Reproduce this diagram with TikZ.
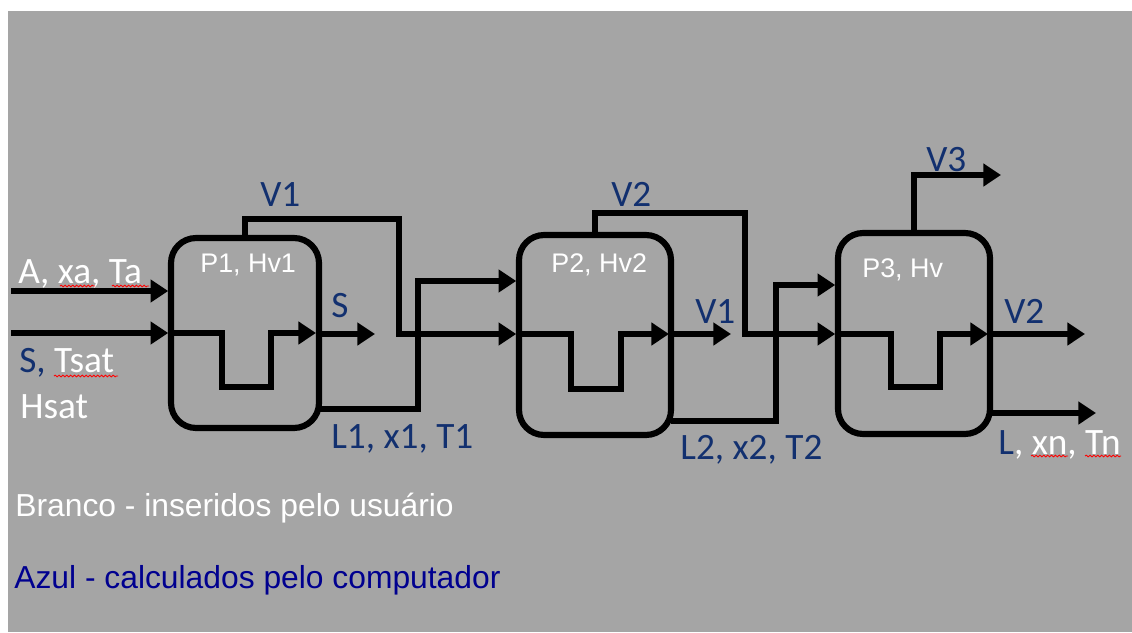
\documentclass[tikz,border=0pt]{standalone}
\usepackage{fontspec}
\setmainfont{Carlito}
\newfontfamily\arialfont{Liberation Sans}
\usepackage{xcolor}
\usetikzlibrary{arrows.meta, positioning, decorations.pathmorphing}
\definecolor{panelcolor}{HTML}{A5A5A5}
\definecolor{calccolor}{HTML}{12306F}
\definecolor{legendcolor}{HTML}{00008F}

\begin{document}
\begin{tikzpicture}[
    x=0.02cm, y=-0.02cm,
    effect/.style={rectangle, draw=black, line width=3.5pt, rounded corners=0.5cm, minimum width=2.96cm, minimum height=3.8cm, outer sep=0pt},
    line/.style={draw=black, line width=3.1pt},
    flow/.style={line, -{Triangle[length=10pt,width=12.5pt]}},
    intake/.style={flow, shorten >=1.6pt},
    tag/.style={anchor=base west, inner sep=0pt, font=\fontsize{21.2}{24}\selectfont, color=calccolor},
    usertag/.style={tag, color=white},
    inner/.style={anchor=base west, inner sep=0pt, font=\arialfont\fontsize{15.3}{18}\selectfont, color=white},
    legend/.style={anchor=base west, inner sep=0pt, font=\arialfont\fontsize{18.1}{20}\selectfont},
    squig/.style={draw=red, line width=0.5pt, decorate, decoration={snake, amplitude=0.5pt, segment length=2.2pt}}
]

\fill[panelcolor] (8,11) rectangle (1132,632);
\useasboundingbox (0,0) rectangle (1132,632);

% -- EFFECT 1 --
\node[effect] (p1) at (245,333) {};
\coordinate (a1) at (11,291);
\coordinate (s1) at (11,333);
\coordinate (s1end) at (375,334);
\coordinate (v1top) at (399,219);
\coordinate (v1low) at (399,334);
\coordinate (l1low) at (418,409);
\coordinate (l1top) at (418,281);

\draw[intake] (a1) -- (p1.west |- a1);
\draw[intake] (s1) -- (p1.west |- s1);
\draw[flow] (p1.west |- s1) -- ++(51,0) -- ++(0,54) -- ++(49,0) -- ++(0,-54) -- ++(45,0);
\draw[flow] (p1.east |- s1end) -- (s1end);

\node[usertag] (feed) at (18,283) {A, xa, Ta};
\node[tag] (steam) at (19,372) {S, \textcolor{white}{Tsat}};
\node[usertag] (hsat) at (20,418) {Hsat};
\node[inner] (p1txt) at (200,272) {P1, Hv1};
\node[tag] (v1txt) at (260,206) {V1};
\node[tag] (stxt) at (331,317) {S};
\node[tag] (l1txt) at (331,448) {L1, x1, T1};
\draw[squig] (60,286) -- (95,286);
\draw[squig] (112,286) -- (149,286);
\draw[squig] (54,376) -- (118,376);

% -- EFFECT 2 --
\node[effect, minimum height=4cm, minimum width=3.04cm] (p2) at (595,335) {};
\coordinate (v1end) at (731,334);
\coordinate (v2top) at (745,213);
\coordinate (v2low) at (745,334);
\coordinate (l2low) at (776,421);
\coordinate (l2top) at (776,285);

\draw[intake] (p1.north) |- (v1top) -- (v1low) -- (p2.west |- v1low);
\draw[intake] (p1.east |- l1low) -- (l1low) -- (l1top) -- (p2.west |- l1top);
\draw[flow] (p2.west |- v1low) -- ++(52,0) -- ++(0,55) -- ++(50,0) -- ++(0,-55) -- ++(48,0);
\draw[flow] (p2.east |- v1end) -- (v1end);

\node[inner] (p2txt) at (551,272) {P2, Hv2};
\node[tag] (v2txt) at (611,206) {V2};
\node[tag] (v1out) at (695,323) {V1};
\node[tag] (l2txt) at (680,459) {L2, x2, T2};

% -- EFFECT 3 --
\node[effect, minimum height=4.02cm, minimum width=3.04cm] (p3) at (914,333.5) {};
\coordinate (v3end) at (1001,175);
\coordinate (v2end) at (1085,334);
\coordinate (lend) at (1096,413);

\draw[intake] (p2.north) |- (v2top) -- (v2low) -- (p3.west |- v2low);
\draw[intake] (p2.east |- l2low) -- (l2low) -- (l2top) -- (p3.west |- l2top);
\draw[flow] (p3.north) |- (v3end);
\draw[flow] (p3.west |- v2low) -- ++(53,0) -- ++(0,53) -- ++(49,0) -- ++(0,-53) -- ++(48,0);
\draw[flow] (p3.east |- v2end) -- (v2end);
\draw[flow] (p3.east |- lend) -- (lend);

\node[inner] (p3txt) at (862,277) {P3, Hv};
\node[tag] (v3txt) at (926,171) {V3};
\node[tag] (v2out) at (1004,323) {V2};
\node[tag] (ltxt) at (998,454) {L\textcolor{white}{, xn, Tn}};
\draw[squig] (1031,456) -- (1068,456);
\draw[squig] (1085,456) -- (1121,456);

% -- LEGEND --
\node[legend, color=white] (white) at (15,516) {Branco - inseridos pelo usuário};
\node[legend, color=legendcolor] (blue) at (14,588) {Azul - calculados pelo computador};

\end{tikzpicture}
\end{document}
